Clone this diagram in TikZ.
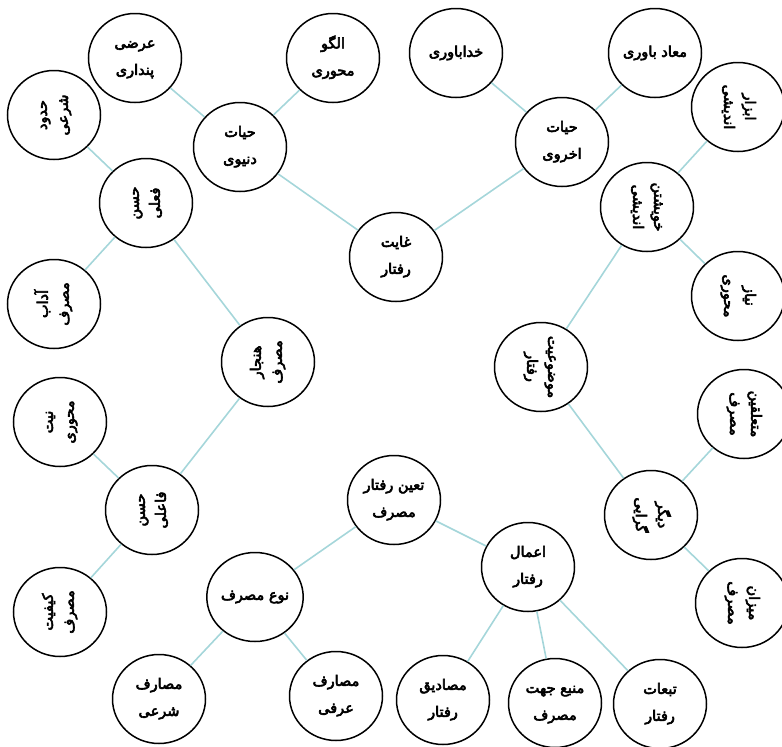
\documentclass[tikz,border=0pt]{standalone}
\usepackage{fontspec}
\usepackage{graphicx}
\usetikzlibrary{shapes.geometric}
\TeXXeTstate=1
\newfontfamily\arabicfont[Script=Arabic,FakeBold=4]{DejaVu Sans}
\newcommand{\fa}[1]{{\arabicfont\beginR #1\endR}}
\newcommand{\hlines}[2]{\begin{tabular}{@{}c@{}}\fa{#1}\\[10pt]\fa{#2}\end{tabular}}
\newcommand{\vup}[2]{\rotatebox[origin=c]{90}{\begin{tabular}{@{}c@{}}\fa{#1}\\[4pt]\fa{#2}\end{tabular}}}
\newcommand{\vdown}[2]{\rotatebox[origin=c]{-90}{\begin{tabular}{@{}c@{}}\fa{#1}\\[4pt]\fa{#2}\end{tabular}}}
\definecolor{edgecol}{RGB}{165,214,218}
\tikzset{
  concept/.style={ellipse, draw=black, line width=1.5pt, fill=white, minimum width=93pt, minimum height=89pt, inner sep=0pt, font=\fontsize{14.5}{17}\selectfont},
  link/.style={draw=edgecol, line width=1.6pt}
}
\begin{document}
\begin{tikzpicture}[x=1pt,y=-1pt]
\useasboundingbox (0,0) rectangle (782,747);
% nodes
\node[concept] (ghayat) at (396,257) {\hlines{غایت}{رفتار}};
\node[concept] (donyavi) at (240,147) {\hlines{حیات}{دنیوی}};
\node[concept] (arazi) at (135,58) {\hlines{عرضی}{پنداری}};
\node[concept] (olgoo) at (333,58) {\hlines{الگو}{محوری}};
\node[concept] (okhravi) at (562,142) {\hlines{حیات}{اخروی}};
\node[concept] (khoda) at (456,53) {\fa{خداباوری}};
\node[concept] (maad) at (655,53) {\fa{معاد باوری}};
\node[concept] (hodood) at (54,115) {\vup{حدود}{شرعی}};
\node[concept] (fe3li) at (146,203) {\vup{حسن}{فعلی}};
\node[concept] (adab) at (54,304) {\vup{آداب}{مصرف}};
\node[concept] (hanjar) at (268,362) {\vup{هنجار}{مصرف}};
\node[concept] (niyat) at (60,422) {\vup{نیت}{محوری}};
\node[concept] (faeli) at (152,510) {\vup{حسن}{فاعلی}};
\node[concept] (keyfiyat) at (60,612) {\vup{کیفیت}{مصرف}};
\node[concept] (taayon) at (394,500) {\hlines{تعین رفتار}{مصرف}};
\node[concept] (noe) at (255,597) {\fa{نوع مصرف}};
\node[concept] (sharei) at (159,699) {\hlines{مصارف}{شرعی}};
\node[concept] (orfi) at (336,696) {\hlines{مصارف}{عرفی}};
\node[concept] (aamal) at (528,567) {\hlines{اعمال}{رفتار}};
\node[concept] (masadigh) at (443,700) {\hlines{مصادیق}{رفتار}};
\node[concept] (manba) at (555,703) {\hlines{منبع جهت}{مصرف}};
\node[concept] (tabaat) at (660,704) {\hlines{تبعات}{رفتار}};
\node[concept] (mozooiyat) at (541,367) {\vdown{موضوعیت}{رفتار}};
\node[concept] (khishtan) at (647,207) {\vdown{خویشتن}{اندیشی}};
\node[concept] (abzar) at (738,107) {\vdown{ابزار}{اندیشی}};
\node[concept] (niaz) at (738,296) {\vdown{نیاز}{محوری}};
\node[concept] (digar) at (651,515) {\vdown{دیگر}{گرایی}};
\node[concept] (motaalleghin) at (744,414) {\vdown{متعلقین}{مصرف}};
\node[concept] (mizan) at (742,603) {\vdown{میزان}{مصرف}};
% links
\path[link] (ghayat) -- (donyavi);
\path[link] (ghayat) -- (okhravi);
\path[link] (donyavi) -- (arazi);
\path[link] (donyavi) -- (olgoo);
\path[link] (okhravi) -- (khoda);
\path[link] (okhravi) -- (maad);
\path[link] (fe3li) -- (hodood);
\path[link] (fe3li) -- (adab);
\path[link] (fe3li) -- (hanjar);
\path[link] (hanjar) -- (faeli);
\path[link] (faeli) -- (niyat);
\path[link] (faeli) -- (keyfiyat);
\path[link] (taayon) -- (noe);
\path[link] (taayon) -- (aamal);
\path[link] (noe) -- (sharei);
\path[link] (noe) -- (orfi);
\path[link] (aamal) -- (masadigh);
\path[link] (aamal) -- (manba);
\path[link] (aamal) -- (tabaat);
\path[link] (mozooiyat) -- (khishtan);
\path[link] (mozooiyat) -- (digar);
\path[link] (khishtan) -- (abzar);
\path[link] (khishtan) -- (niaz);
\path[link] (digar) -- (motaalleghin);
\path[link] (digar) -- (mizan);
\end{tikzpicture}
\end{document}
